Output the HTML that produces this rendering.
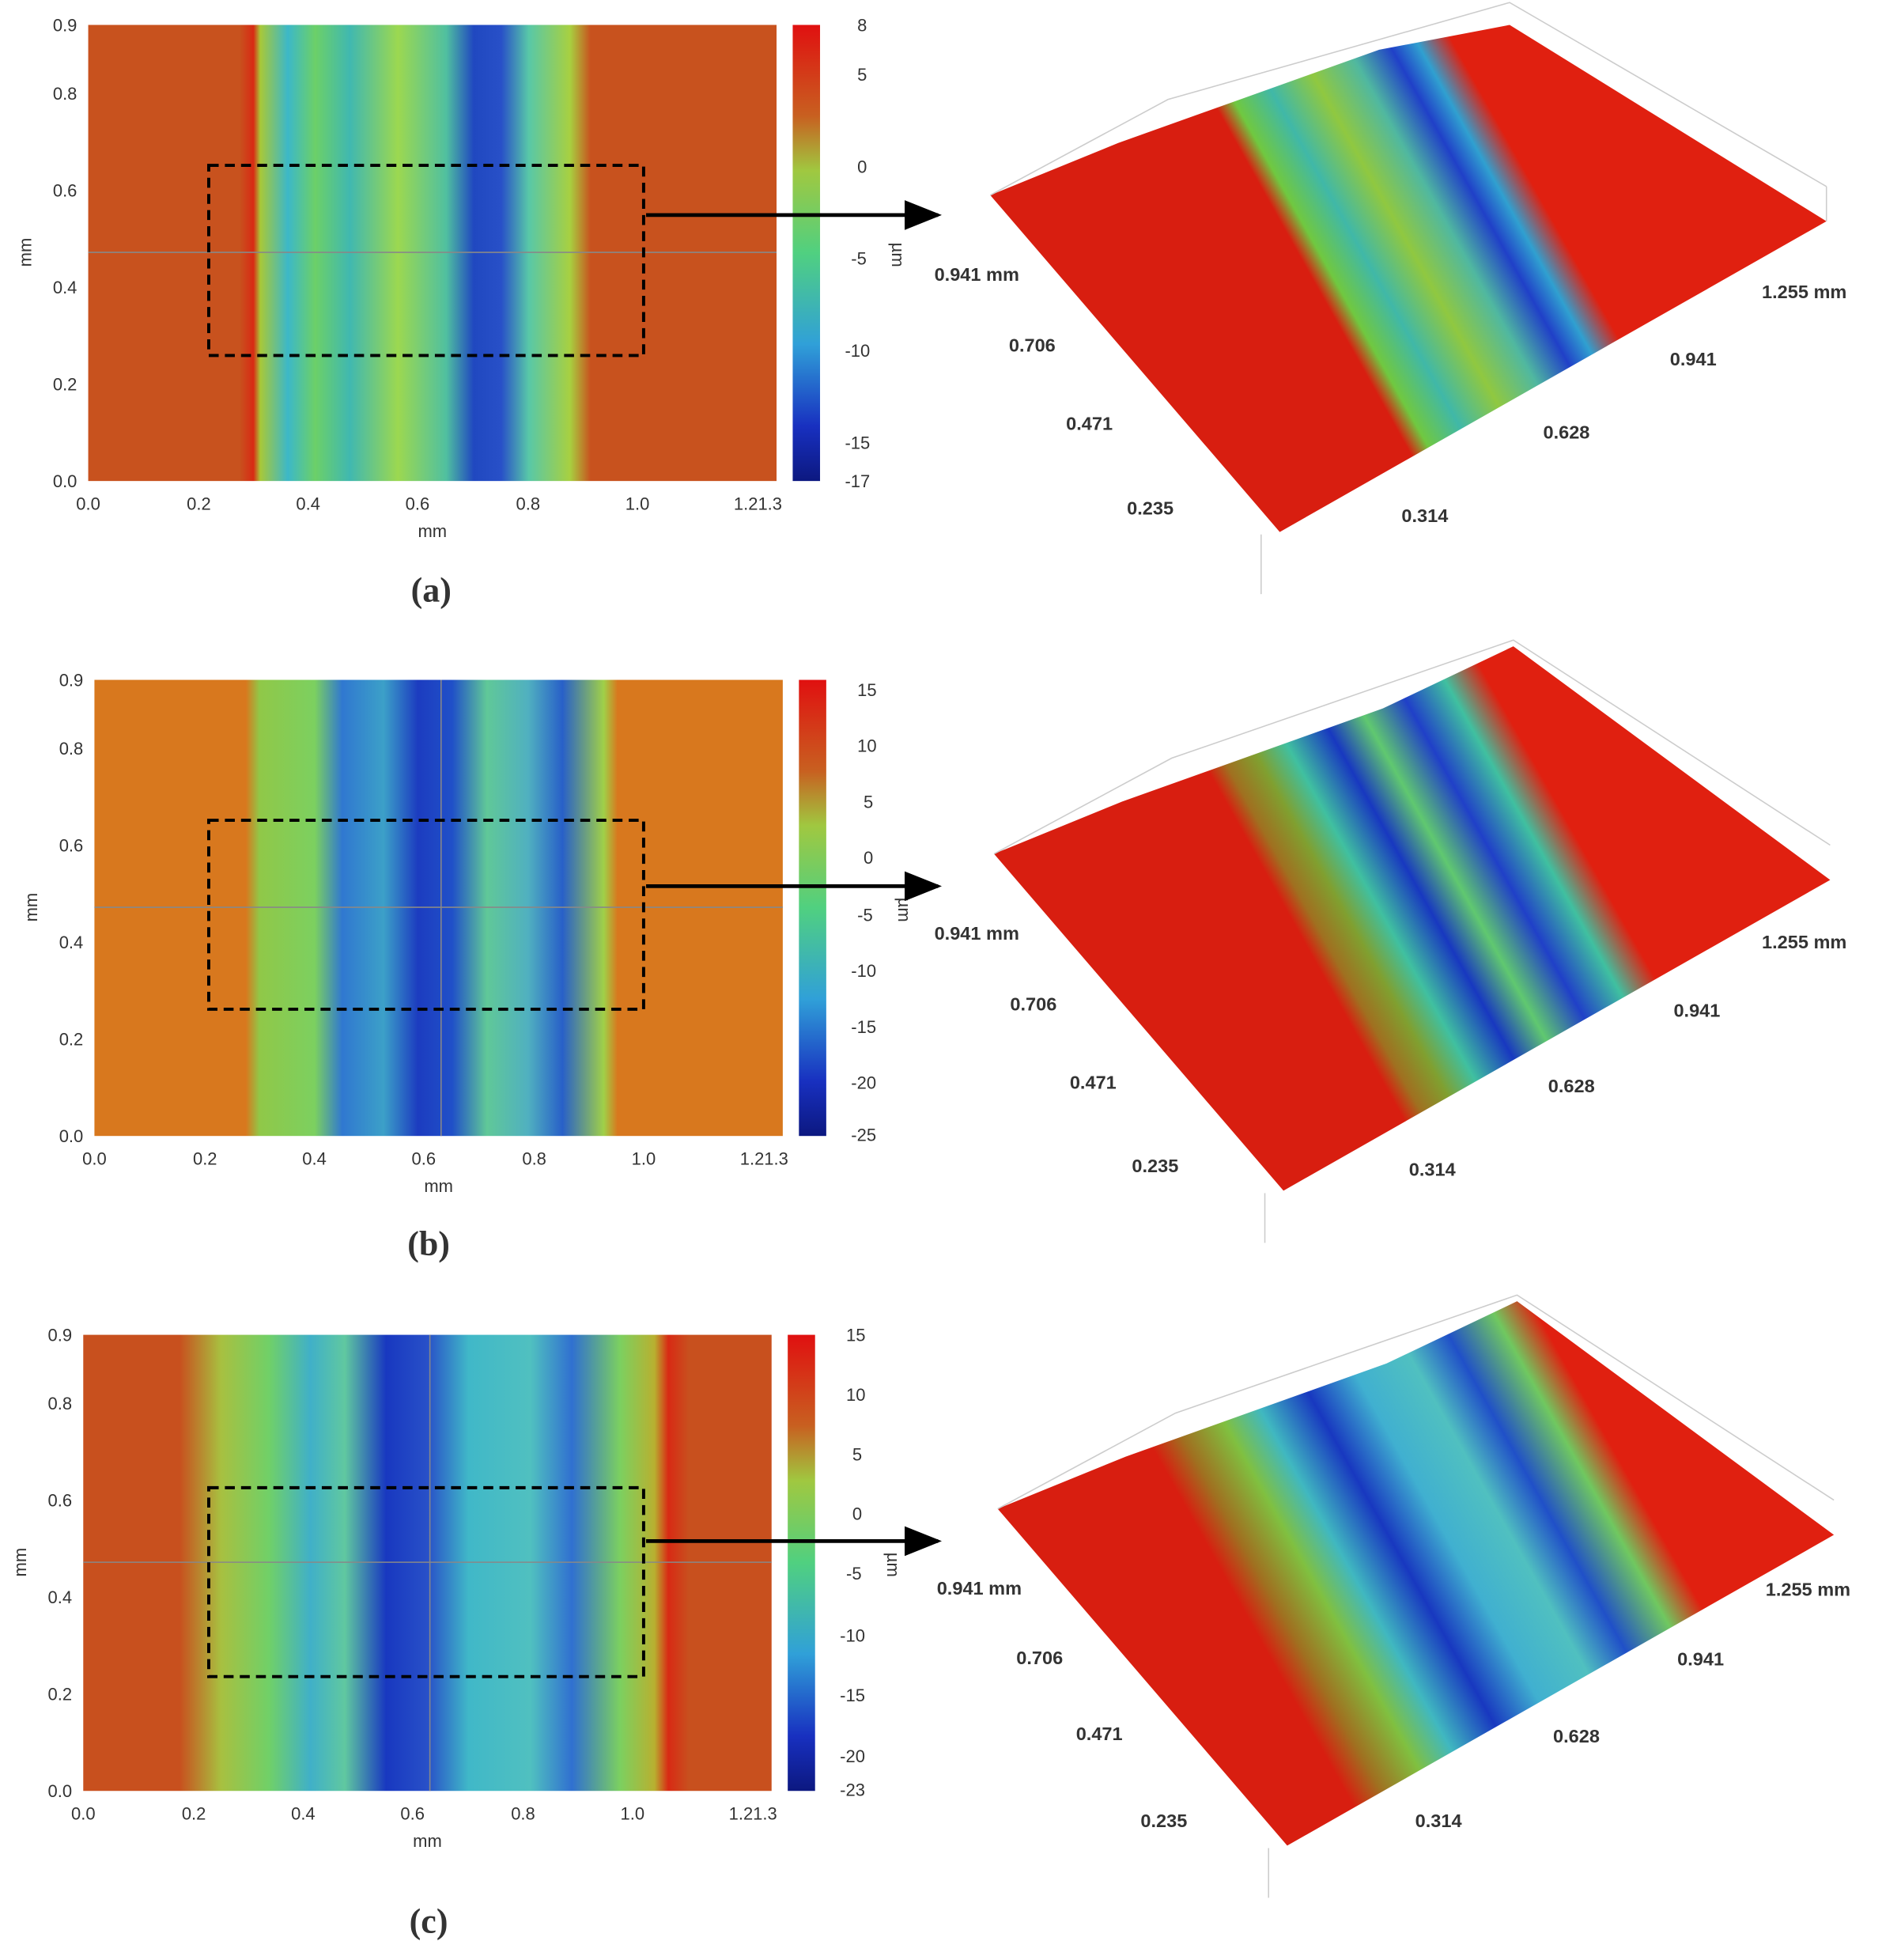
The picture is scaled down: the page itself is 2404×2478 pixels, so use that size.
<!DOCTYPE html>
<html><head><meta charset="utf-8"><style>
html,body{margin:0;padding:0;background:#fff}
svg{display:block}
text{font-family:"Liberation Sans",sans-serif;fill:#333}
</style></head><body>
<svg width="2404" height="2478" viewBox="0 0 1530 1577" xmlns="http://www.w3.org/2000/svg">
<defs>
<linearGradient id="ga" x1="0" x2="1" y1="0" y2="0">
<stop offset="0" stop-color="#c8521e"/><stop offset="0.22" stop-color="#c8521e"/>
<stop offset="0.24" stop-color="#d82a14"/><stop offset="0.25" stop-color="#a8c838"/>
<stop offset="0.29" stop-color="#3cb8c8"/><stop offset="0.33" stop-color="#6cd068"/>
<stop offset="0.38" stop-color="#40b8b0"/><stop offset="0.45" stop-color="#9cd850"/>
<stop offset="0.52" stop-color="#50c0a0"/><stop offset="0.56" stop-color="#2048c0"/>
<stop offset="0.6" stop-color="#2850c8"/><stop offset="0.64" stop-color="#58c8a8"/>
<stop offset="0.7" stop-color="#a8d040"/><stop offset="0.73" stop-color="#c8521e"/>
<stop offset="1" stop-color="#c8521e"/></linearGradient>
<linearGradient id="gb" x1="0" x2="1" y1="0" y2="0">
<stop offset="0" stop-color="#d8781e"/><stop offset="0.22" stop-color="#d8781e"/>
<stop offset="0.24" stop-color="#90c848"/><stop offset="0.32" stop-color="#7cd060"/>
<stop offset="0.36" stop-color="#3078d0"/><stop offset="0.42" stop-color="#3ca0c8"/>
<stop offset="0.47" stop-color="#1c3cc0"/><stop offset="0.52" stop-color="#2050c8"/>
<stop offset="0.57" stop-color="#60c898"/><stop offset="0.63" stop-color="#50b0c0"/>
<stop offset="0.68" stop-color="#2860c8"/><stop offset="0.74" stop-color="#a0d048"/>
<stop offset="0.76" stop-color="#d8781e"/><stop offset="1" stop-color="#d8781e"/></linearGradient>
<linearGradient id="gc" x1="0" x2="1" y1="0" y2="0">
<stop offset="0" stop-color="#c8501e"/><stop offset="0.14" stop-color="#c8501e"/>
<stop offset="0.2" stop-color="#a8c040"/><stop offset="0.27" stop-color="#70d068"/>
<stop offset="0.33" stop-color="#40b0c8"/><stop offset="0.38" stop-color="#60c8a0"/>
<stop offset="0.44" stop-color="#1838c0"/><stop offset="0.5" stop-color="#2850c8"/>
<stop offset="0.56" stop-color="#40b8c8"/><stop offset="0.65" stop-color="#50c0c0"/>
<stop offset="0.71" stop-color="#3070d0"/><stop offset="0.78" stop-color="#7cd060"/>
<stop offset="0.83" stop-color="#b8b030"/><stop offset="0.85" stop-color="#d82a14"/>
<stop offset="0.88" stop-color="#c8501e"/><stop offset="1" stop-color="#c8501e"/></linearGradient>
<linearGradient id="cb" x1="0" x2="0" y1="0" y2="1">
<stop offset="0" stop-color="#e01010"/><stop offset="0.2" stop-color="#c86020"/>
<stop offset="0.32" stop-color="#a0c840"/><stop offset="0.5" stop-color="#50d080"/>
<stop offset="0.7" stop-color="#30a0d8"/><stop offset="0.88" stop-color="#1830c0"/>
<stop offset="1" stop-color="#0c1880"/></linearGradient>
<linearGradient id="sa" gradientUnits="userSpaceOnUse" x1="1030" y1="425" x2="1470" y2="178">
<stop offset="0" stop-color="#d81e10"/><stop offset="0.24" stop-color="#d81e10"/>
<stop offset="0.27" stop-color="#70c840"/><stop offset="0.33" stop-color="#40b8a8"/>
<stop offset="0.4" stop-color="#90c840"/><stop offset="0.47" stop-color="#50b8a0"/>
<stop offset="0.53" stop-color="#2040c8"/><stop offset="0.57" stop-color="#30a0d0"/>
<stop offset="0.62" stop-color="#e02010"/><stop offset="1" stop-color="#e02010"/></linearGradient>
<linearGradient id="sb" gradientUnits="userSpaceOnUse" x1="1030" y1="425" x2="1470" y2="178">
<stop offset="0" stop-color="#d81e10"/><stop offset="0.22" stop-color="#d81e10"/>
<stop offset="0.25" stop-color="#a07020"/><stop offset="0.3" stop-color="#80a030"/>
<stop offset="0.35" stop-color="#40c0a0"/><stop offset="0.42" stop-color="#1838c0"/>
<stop offset="0.48" stop-color="#60c870"/><stop offset="0.55" stop-color="#2040c8"/>
<stop offset="0.62" stop-color="#40c0a0"/><stop offset="0.68" stop-color="#e02010"/>
<stop offset="1" stop-color="#e02010"/></linearGradient>
<linearGradient id="sc" gradientUnits="userSpaceOnUse" x1="1030" y1="425" x2="1470" y2="178">
<stop offset="0" stop-color="#d81e10"/><stop offset="0.12" stop-color="#d81e10"/>
<stop offset="0.17" stop-color="#a07020"/><stop offset="0.24" stop-color="#80c040"/>
<stop offset="0.3" stop-color="#40b8c0"/><stop offset="0.38" stop-color="#1838c0"/>
<stop offset="0.46" stop-color="#40b0d0"/><stop offset="0.55" stop-color="#50c0c0"/>
<stop offset="0.62" stop-color="#2050c8"/><stop offset="0.7" stop-color="#70c860"/>
<stop offset="0.76" stop-color="#e02010"/><stop offset="1" stop-color="#e02010"/></linearGradient>
<marker id="ah" markerWidth="10" markerHeight="8" refX="9" refY="4" orient="auto" markerUnits="strokeWidth"><path d="M0,0 L10,4 L0,8z" fill="#000"/></marker>
</defs>

<!-- generic panel template repeated -->
<g id="pa">
<rect x="71" y="20" width="554" height="367" fill="url(#ga)"/>
<line x1="71" y1="203" x2="625" y2="203" stroke="#888" stroke-width="1"/>
<rect x="638" y="20" width="22" height="367" fill="url(#cb)"/>
<g font-size="14" text-anchor="start">
<text x="690" y="25">8</text><text x="690" y="65">5</text><text x="690" y="139">0</text><text x="685" y="213">-5</text><text x="680" y="287">-10</text><text x="680" y="361">-15</text><text x="680" y="392">-17</text></g>
<text x="718" y="205" font-size="14" transform="rotate(90 718 205)" text-anchor="middle">µm</text>
<rect x="168" y="133" width="350" height="153" fill="none" stroke="#000" stroke-width="2.5" stroke-dasharray="8,5"/>
<line x1="520" y1="173" x2="755" y2="173" stroke="#000" stroke-width="3" marker-end="url(#ah)"/>
<polygon points="797,157 1030,428 1470,178 1215,20 1110,40 900,115" fill="url(#sa)"/>
<g stroke="#ccc" fill="none"><polyline points="797,157 940,80 1215,2 1470,150"/><line x1="1470" y1="150" x2="1470" y2="178"/><line x1="1015" y1="430" x2="1015" y2="478"/></g>
</g>
<g id="axa" font-size="14">
<g text-anchor="end"><text x="62" y="25">0.9</text><text x="62" y="80">0.8</text><text x="62" y="158">0.6</text><text x="62" y="236">0.4</text><text x="62" y="314">0.2</text><text x="62" y="392">0.0</text></g>
<g text-anchor="middle"><text x="71" y="410">0.0</text><text x="160" y="410">0.2</text><text x="248" y="410">0.4</text><text x="336" y="410">0.6</text><text x="425" y="410">0.8</text><text x="513" y="410">1.0</text><text x="610" y="410">1.21.3</text><text x="348" y="432">mm</text></g>
<text x="25" y="203" transform="rotate(-90 25 203)" text-anchor="middle">mm</text>
</g>
<g font-size="15" font-weight="bold" fill="#333">
<text x="752" y="226">0.941 mm</text><text x="1418" y="240">1.255 mm</text>
<text x="812" y="283">0.706</text><text x="858" y="346">0.471</text><text x="907" y="414">0.235</text>
<text x="1128" y="420">0.314</text><text x="1242" y="353">0.628</text><text x="1344" y="294">0.941</text></g>
<text x="347" y="484" font-size="28" font-weight="bold" text-anchor="middle" style="font-family:'Liberation Serif',serif" fill="#000">(a)</text>

<!-- (b) -->
<g transform="translate(5,527)">
<rect x="71" y="20" width="554" height="367" fill="url(#gb)"/>
<line x1="71" y1="203" x2="625" y2="203" stroke="#888"/><line x1="350" y1="20" x2="350" y2="387" stroke="#888"/>
<rect x="638" y="20" width="22" height="367" fill="url(#cb)"/>
<g font-size="14"><text x="685" y="33">15</text><text x="685" y="78">10</text><text x="690" y="123">5</text><text x="690" y="168">0</text><text x="685" y="214">-5</text><text x="680" y="259">-10</text><text x="680" y="304">-15</text><text x="680" y="349">-20</text><text x="680" y="391">-25</text></g>
<text x="718" y="205" font-size="14" transform="rotate(90 718 205)" text-anchor="middle">µm</text>
<rect x="163" y="133" width="350" height="152" fill="none" stroke="#000" stroke-width="2.5" stroke-dasharray="8,5"/>
<line x1="515" y1="186" x2="750" y2="186" stroke="#000" stroke-width="3" marker-end="url(#ah)"/>
<g font-size="14">
<g text-anchor="end"><text x="62" y="25">0.9</text><text x="62" y="80">0.8</text><text x="62" y="158">0.6</text><text x="62" y="236">0.4</text><text x="62" y="314">0.2</text><text x="62" y="392">0.0</text></g>
<g text-anchor="middle"><text x="71" y="410">0.0</text><text x="160" y="410">0.2</text><text x="248" y="410">0.4</text><text x="336" y="410">0.6</text><text x="425" y="410">0.8</text><text x="513" y="410">1.0</text><text x="610" y="410">1.21.3</text><text x="348" y="432">mm</text></g>
<text x="25" y="203" transform="rotate(-90 25 203)" text-anchor="middle">mm</text></g>
</g>
<g transform="translate(3,530)">
<polygon points="797,157 1030,428 1470,178 1215,-10 1110,40 900,115" fill="url(#sb)"/>
<g stroke="#ccc" fill="none"><polyline points="797,157 940,80 1215,-15 1470,150"/><line x1="1015" y1="430" x2="1015" y2="470"/></g>
<g font-size="15" font-weight="bold">
<text x="749" y="226">0.941 mm</text><text x="1415" y="233">1.255 mm</text>
<text x="810" y="283">0.706</text><text x="858" y="346">0.471</text><text x="908" y="413">0.235</text>
<text x="1131" y="416">0.314</text><text x="1243" y="349">0.628</text><text x="1344" y="288">0.941</text></g>
</g>
<text x="345" y="1010" font-size="28" font-weight="bold" text-anchor="middle" style="font-family:'Liberation Serif',serif" fill="#000">(b)</text>

<!-- (c) -->
<g transform="translate(-4,1054)">
<rect x="71" y="20" width="554" height="367" fill="url(#gc)"/>
<line x1="71" y1="203" x2="625" y2="203" stroke="#888"/><line x1="350" y1="20" x2="350" y2="387" stroke="#888"/>
<rect x="638" y="20" width="22" height="367" fill="url(#cb)"/>
<g font-size="14"><text x="685" y="25">15</text><text x="685" y="73">10</text><text x="690" y="121">5</text><text x="690" y="169">0</text><text x="685" y="217">-5</text><text x="680" y="267">-10</text><text x="680" y="315">-15</text><text x="680" y="364">-20</text><text x="680" y="391">-23</text></g>
<text x="718" y="205" font-size="14" transform="rotate(90 718 205)" text-anchor="middle">µm</text>
<rect x="172" y="143" width="350" height="152" fill="none" stroke="#000" stroke-width="2.5" stroke-dasharray="8,5"/>
<line x1="524" y1="186" x2="759" y2="186" stroke="#000" stroke-width="3" marker-end="url(#ah)"/>
<g font-size="14">
<g text-anchor="end"><text x="62" y="25">0.9</text><text x="62" y="80">0.8</text><text x="62" y="158">0.6</text><text x="62" y="236">0.4</text><text x="62" y="314">0.2</text><text x="62" y="392">0.0</text></g>
<g text-anchor="middle"><text x="71" y="410">0.0</text><text x="160" y="410">0.2</text><text x="248" y="410">0.4</text><text x="336" y="410">0.6</text><text x="425" y="410">0.8</text><text x="513" y="410">1.0</text><text x="610" y="410">1.21.3</text><text x="348" y="432">mm</text></g>
<text x="25" y="203" transform="rotate(-90 25 203)" text-anchor="middle">mm</text></g>
</g>
<g transform="translate(6,1057)">
<polygon points="797,157 1030,428 1470,178 1215,-10 1110,40 900,115" fill="url(#sc)"/>
<g stroke="#ccc" fill="none"><polyline points="797,157 940,80 1215,-15 1470,150"/><line x1="1015" y1="430" x2="1015" y2="470"/></g>
<g font-size="15" font-weight="bold">
<text x="748" y="226">0.941 mm</text><text x="1415" y="227">1.255 mm</text>
<text x="812" y="282">0.706</text><text x="860" y="343">0.471</text><text x="912" y="413">0.235</text>
<text x="1133" y="413">0.314</text><text x="1244" y="345">0.628</text><text x="1344" y="283">0.941</text></g>
</g>
<text x="345" y="1555" font-size="28" font-weight="bold" text-anchor="middle" style="font-family:'Liberation Serif',serif" fill="#000">(c)</text>
</svg>
</body></html>
